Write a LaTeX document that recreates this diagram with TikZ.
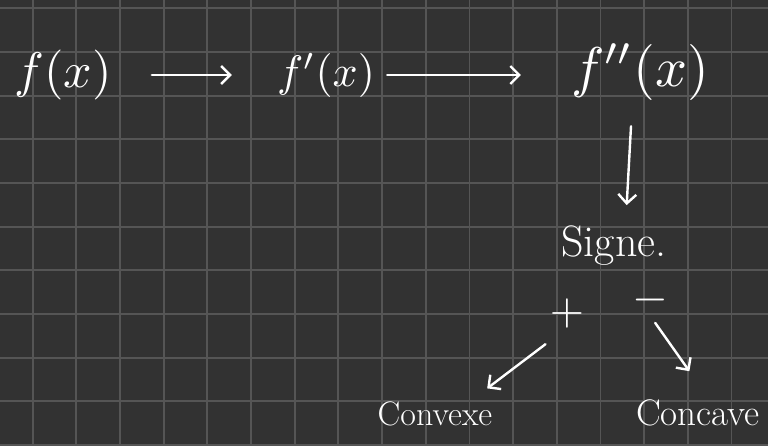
\documentclass[tikz,border=0pt]{standalone}
\usetikzlibrary{arrows.meta}
\definecolor{bg}{HTML}{323232}
\definecolor{gridc}{HTML}{555555}
\tikzset{
  hand/.style={text=white, inner sep=0pt},
  conn/.style={draw=white, line width=2.4pt, line cap=round,
    -{Straight Barb[length=9pt,width=18pt,line width=2.4pt]}},
  gridline/.style={draw=gridc, line width=1.8pt}
}
\begin{document}
\begin{tikzpicture}[x=1pt,y=-1pt]
\fill[bg] (0,0) rectangle (768,445);
\useasboundingbox (0,0) rectangle (768,445);
\foreach \k in {0,...,16} \draw[gridline] ({32.7+43.67*\k},0) -- ({32.7+43.67*\k},445);
\foreach \k in {0,...,10} \draw[gridline] (0,{8.3+43.67*\k}) -- (768,{8.3+43.67*\k});

\node[hand] (fx) at (63,75) {\scalebox{5}{$f(x)$}};
\node[hand] (fpx) at (326,75) {\scalebox{4.4}{$f'(x)$}};
\node[hand] (fppx) at (640,72) {\scalebox{5.6}{$f''(x)$}};
\node[hand, font=\fontsize{44}{50}\selectfont, anchor=base] (signe) at (614,256) {Signe.};
\node[hand] (plus) at (567,313) {\scalebox{4.4}{$+$}};
\node[hand] (minus) at (650,300) {\scalebox{4.6}{$-$}};
\node[hand, font=\fontsize{34}{40}\selectfont, anchor=base] (convexe) at (435,425) {Convexe};
\node[hand, font=\fontsize{37}{42}\selectfont, anchor=base] (concave) at (698,425) {Concave};

\draw[conn, shorten <=40pt, shorten >=45pt] (fx) -- (fpx);
\draw[conn, shorten <=12pt, shorten >=50pt] (fpx.east) -- (fppx.west |- fpx.east);
\draw[conn, shorten <=26pt, shorten >=20pt] (fppx.-105) -- (signe.60);
\draw[conn, shorten <=27pt, shorten >=21pt] (plus.south) -- ([xshift=-22pt]convexe.north east);
\draw[conn, shorten <=9pt, shorten >=34pt] (minus.south) -- ([xshift=11pt]concave.north);
\end{tikzpicture}
\end{document}
